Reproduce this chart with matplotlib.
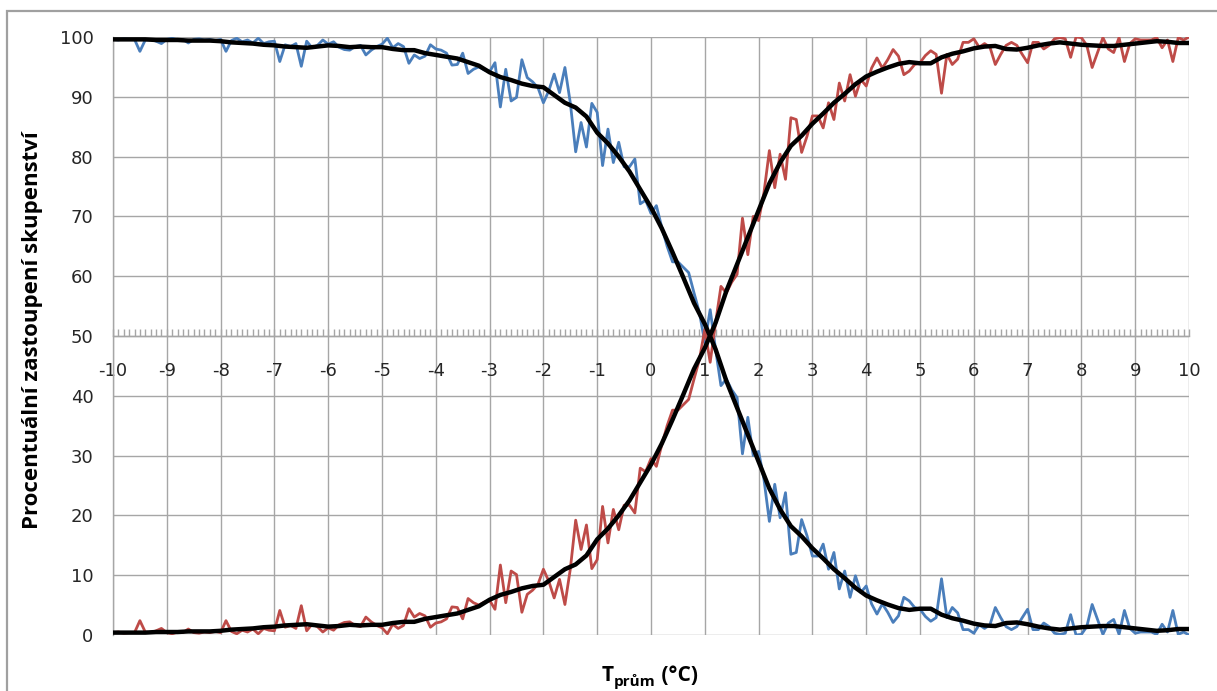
import numpy as np
import matplotlib
matplotlib.use("Agg")
import matplotlib.pyplot as plt
from matplotlib.lines import Line2D
from matplotlib.ticker import MultipleLocator, FixedLocator, FixedFormatter

# ---------------- data ----------------
temp = np.round(np.linspace(-10, 10, 201), 1)           # T (°C), step 0.1
temp_smooth = np.round(np.linspace(-10, 10, 101), 1)    # smoothed curve, step 0.2

blue_series = [
    99.6, 99.5, 99.7, 99.6, 99.6, 97.6, 99.5, 99.6, 99.3, 98.9,
    99.6, 99.8, 99.5, 99.6, 99.0, 99.6, 99.7, 99.5, 99.6, 99.4,
    99.6, 97.6, 99.4, 99.8, 99.2, 99.5, 99.0, 99.8, 98.9, 99.2,
    99.3, 95.9, 98.7, 98.4, 98.9, 95.1, 99.3, 98.2, 98.6, 99.5,
    98.8, 99.2, 98.3, 97.9, 97.8, 98.4, 98.6, 97.0, 97.8, 98.4,
    98.8, 99.8, 98.2, 98.9, 98.4, 95.6, 97.0, 96.4, 96.8, 98.7,
    98.0, 97.8, 97.3, 95.3, 95.4, 97.3, 93.9, 94.6, 95.0, 94.5,
    94.2, 95.7, 88.3, 94.6, 89.3, 89.9, 96.2, 93.2, 92.5, 91.5,
    89.0, 91.0, 93.8, 90.7, 94.9, 89.0, 80.8, 85.7, 81.6, 88.9,
    87.4, 78.5, 84.6, 79.0, 82.4, 78.3, 78.3, 79.6, 72.1, 72.7,
    70.5, 71.8, 68.2, 65.0, 62.4, 62.4, 61.5, 60.6, 57.2, 53.9,
    48.9, 54.4, 47.8, 41.7, 42.8, 41.0, 39.7, 30.3, 36.4, 30.0,
    30.7, 26.0, 19.0, 25.2, 19.6, 23.8, 13.5, 13.8, 19.3, 16.6,
    13.2, 13.2, 15.2, 11.0, 13.8, 7.7, 10.7, 6.3, 9.9, 7.1,
    8.2, 5.2, 3.5, 5.2, 3.8, 2.1, 3.2, 6.3, 5.7, 4.6,
    4.3, 3.1, 2.3, 2.9, 9.4, 2.9, 4.6, 3.7, 0.9, 0.9,
    0.3, 1.7, 1.1, 1.7, 4.6, 2.9, 1.4, 0.9, 1.4, 2.9,
    4.3, 0.9, 0.9, 2.0, 1.4, 0.3, 0.1, 0.3, 3.4, 0.0,
    0.1, 1.4, 5.1, 2.6, 0.1, 2.0, 2.6, 0.1, 4.1, 1.1,
    0.3, 0.5, 0.5, 0.5, 0.1, 1.8, 0.5, 4.1, 0.1, 0.5,
    0.0,
]

red_series = [
    0.4, 0.5, 0.3, 0.4, 0.4, 2.4, 0.5, 0.4, 0.7, 1.1,
    0.4, 0.2, 0.5, 0.4, 1.0, 0.4, 0.3, 0.5, 0.4, 0.6,
    0.4, 2.4, 0.6, 0.2, 0.8, 0.5, 1.0, 0.2, 1.1, 0.8,
    0.7, 4.1, 1.3, 1.6, 1.1, 4.9, 0.7, 1.8, 1.4, 0.5,
    1.2, 0.8, 1.7, 2.1, 2.2, 1.6, 1.4, 3.0, 2.2, 1.6,
    1.2, 0.2, 1.8, 1.1, 1.6, 4.4, 3.0, 3.6, 3.2, 1.3,
    2.0, 2.2, 2.7, 4.7, 4.6, 2.7, 6.1, 5.4, 5.0, 5.5,
    5.8, 4.3, 11.7, 5.4, 10.7, 10.1, 3.8, 6.8, 7.5, 8.5,
    11.0, 9.0, 6.2, 9.3, 5.1, 11.0, 19.2, 14.3, 18.4, 11.1,
    12.6, 21.5, 15.4, 21.0, 17.6, 21.7, 21.7, 20.4, 27.9, 27.3,
    29.5, 28.2, 31.8, 35.0, 37.6, 37.6, 38.5, 39.4, 42.8, 46.1,
    51.1, 45.6, 52.2, 58.3, 57.2, 59.0, 60.3, 69.7, 63.6, 70.0,
    69.3, 74.0, 81.0, 74.8, 80.4, 76.2, 86.5, 86.2, 80.7, 83.4,
    86.8, 86.8, 84.8, 89.0, 86.2, 92.3, 89.3, 93.7, 90.1, 92.9,
    91.8, 94.8, 96.5, 94.8, 96.2, 97.9, 96.8, 93.7, 94.3, 95.4,
    95.7, 96.9, 97.7, 97.1, 90.6, 97.1, 95.4, 96.3, 99.1, 99.1,
    99.7, 98.3, 98.9, 98.3, 95.4, 97.1, 98.6, 99.1, 98.6, 97.1,
    95.7, 99.1, 99.1, 98.0, 98.6, 99.7, 99.9, 99.7, 96.6, 100.0,
    99.9, 98.6, 94.9, 97.4, 99.9, 98.0, 97.4, 99.9, 95.9, 98.9,
    99.7, 99.5, 99.5, 99.5, 99.9, 98.2, 99.5, 95.9, 99.9, 99.5,
    100.0,
]

smooth_falling = [
    99.6, 99.6, 99.6, 99.6, 99.5, 99.5, 99.5, 99.4, 99.4, 99.4,
    99.3, 99.1, 99.0, 98.9, 98.7, 98.6, 98.4, 98.3, 98.2, 98.4,
    98.6, 98.5, 98.3, 98.4, 98.3, 98.3, 98.0, 97.8, 97.8, 97.3,
    97.0, 96.7, 96.4, 95.8, 95.2, 94.1, 93.3, 92.8, 92.2, 91.8,
    91.6, 90.3, 89.0, 88.2, 86.7, 84.0, 82.2, 80.0, 77.5, 74.5,
    71.5, 68.0, 64.0, 59.8, 55.5, 52.0, 47.8, 42.5, 38.0, 33.5,
    29.0, 24.5, 21.0, 18.2, 16.5, 14.5, 12.8, 11.0, 9.5, 7.9,
    6.6, 5.8, 5.1, 4.5, 4.2, 4.4, 4.4, 3.4, 2.8, 2.4,
    1.9, 1.6, 1.5, 2.0, 2.1, 1.8, 1.4, 1.1, 0.9, 1.1,
    1.3, 1.4, 1.5, 1.5, 1.3, 1.1, 0.9, 0.7, 0.8, 1.0,
    1.0,
]

smooth_rising = [
    0.4, 0.4, 0.4, 0.4, 0.5, 0.5, 0.5, 0.6, 0.6, 0.6,
    0.7, 0.9, 1.0, 1.1, 1.3, 1.4, 1.6, 1.7, 1.8, 1.6,
    1.4, 1.5, 1.7, 1.6, 1.7, 1.7, 2.0, 2.2, 2.2, 2.7,
    3.0, 3.3, 3.6, 4.2, 4.8, 5.9, 6.7, 7.2, 7.8, 8.2,
    8.4, 9.7, 11.0, 11.8, 13.3, 16.0, 17.8, 20.0, 22.5, 25.5,
    28.5, 32.0, 36.0, 40.2, 44.5, 48.0, 52.2, 57.5, 62.0, 66.5,
    71.0, 75.5, 79.0, 81.8, 83.5, 85.5, 87.2, 89.0, 90.5, 92.1,
    93.4, 94.2, 94.9, 95.5, 95.8, 95.6, 95.6, 96.6, 97.2, 97.6,
    98.1, 98.4, 98.5, 98.0, 97.9, 98.2, 98.6, 98.9, 99.1, 98.9,
    98.7, 98.6, 98.5, 98.5, 98.7, 98.9, 99.1, 99.3, 99.2, 99.0,
    99.0,
]

x_ticks = list(range(-10, 11))
x_ticklabels = [str(v) for v in x_ticks]
y_ticks = list(range(0, 101, 10))
y_ticklabels = [str(v) for v in y_ticks]

y_title = "Procentuální zastoupení skupenství"

# ---------------- figure ----------------
W, H = 1217, 691
fig = plt.figure(figsize=(W / 100, H / 100), dpi=100)
fig.patch.set_facecolor("white")

def fx(px):
    return px / W

def fy(py):
    return 1 - py / H

left, right, top, bottom = 113, 1189, 37, 635
ax = fig.add_axes([fx(left), fy(bottom), fx(right) - fx(left), fy(top) - fy(bottom)])

grid_c = "#a6a6a6"
blue_c = "#4a7ebb"
red_c = "#be4b48"

ax.plot(temp, blue_series, color=blue_c, lw=2.0, zorder=3, solid_joinstyle="round")
ax.plot(temp, red_series, color=red_c, lw=2.0, zorder=3, solid_joinstyle="round")
ax.plot(temp_smooth, smooth_falling, color="black", lw=3.2, zorder=4, solid_joinstyle="round")
ax.plot(temp_smooth, smooth_rising, color="black", lw=3.2, zorder=4, solid_joinstyle="round")

ax.set_xlim(-10, 10)
ax.set_ylim(0, 100)

ax.xaxis.set_major_locator(FixedLocator(x_ticks))
ax.xaxis.set_major_formatter(FixedFormatter(x_ticklabels))
ax.xaxis.set_minor_locator(MultipleLocator(0.1))
ax.yaxis.set_major_locator(FixedLocator(y_ticks))
ax.yaxis.set_major_formatter(FixedFormatter(y_ticklabels))

ax.grid(True, which="major", color=grid_c, lw=1.0, zorder=1)
ax.set_axisbelow(True)

for s in ["top", "right"]:
    ax.spines[s].set_visible(False)
ax.spines["left"].set_color(grid_c)
ax.spines["left"].set_linewidth(1.0)
ax.spines["bottom"].set_position(("data", 50))
ax.spines["bottom"].set_color(grid_c)
ax.spines["bottom"].set_linewidth(1.0)

ax.tick_params(axis="x", which="both", direction="in", color=grid_c, width=1.0)
ax.tick_params(axis="x", which="major", length=5, pad=19, labelsize=13, labelcolor="#262626")
ax.tick_params(axis="x", which="minor", length=5)
ax.tick_params(axis="y", which="major", length=0, pad=14, labelsize=13, labelcolor="#262626")
for lab in ax.get_xticklabels() + ax.get_yticklabels():
    lab.set_fontfamily("DejaVu Sans")

# y title
fig.text(fx(33), fy(330), y_title, rotation=90, ha="center", va="center",
         fontsize=16, fontweight="bold", family="Open Sans", color="black")

# x title: T with subscript "prům" then " (°C)"
fig.canvas.draw()
renderer = fig.canvas.get_renderer()
base_y = fy(681)
t1 = fig.text(0, base_y, "T", fontsize=15, fontweight="bold", family="Open Sans",
              va="baseline", ha="left")
t2 = fig.text(0, fy(686), "prům", fontsize=11, fontweight="bold", family="Open Sans",
              va="baseline", ha="left")
t3 = fig.text(0, base_y, " (°C)", fontsize=15, fontweight="bold", family="Open Sans",
              va="baseline", ha="left")
w1 = t1.get_window_extent(renderer).width
w2 = t2.get_window_extent(renderer).width
w3 = t3.get_window_extent(renderer).width
total = w1 + w2 + w3
x0 = 650 - total / 2
t1.set_x(fx(x0))
t2.set_x(fx(x0 + w1))
t3.set_x(fx(x0 + w1 + w2))

# outer chart-area border (left and top visible)
border = Line2D([fx(7), fx(7), 1.0], [0.0, fy(11), fy(11)], transform=fig.transFigure,
                color="#a0a0a0", lw=1.6, solid_joinstyle="miter")
fig.add_artist(border)

fig.savefig("out.png", dpi=100, facecolor="white")
